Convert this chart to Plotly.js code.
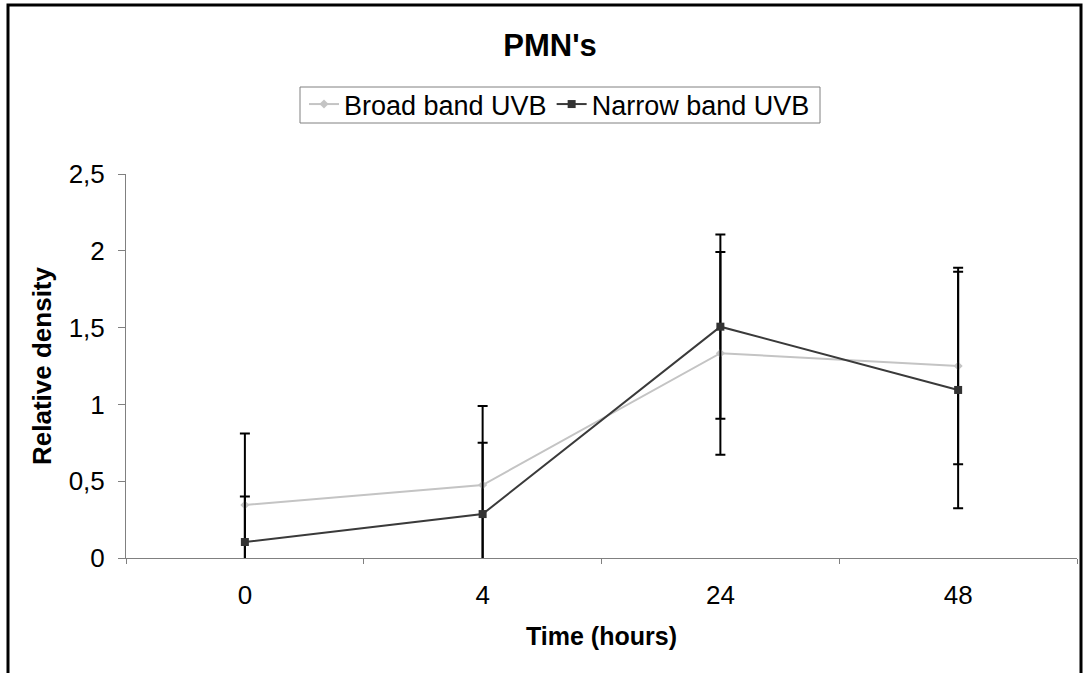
<!DOCTYPE html>
<html>
<head>
<meta charset="utf-8">
<script src="https://cdn.plot.ly/plotly-3.0.1.min.js"></script>
<style>html,body{margin:0;padding:0;background:#fff}#chart{width:1088px;height:673px}</style>
</head>
<body>
<div id="chart"></div>
<script>
const categories = ['0', '4', '24', '48'];
const broadBand = [0.345, 0.475, 1.333, 1.25];
const broadBandErr = [0.465, 0.515, 0.66, 0.64];
const narrowBand = [0.104, 0.286, 1.506, 1.094];
const narrowBandErr = [0.296, 0.464, 0.60, 0.77];
const yTicks = [0, 0.5, 1, 1.5, 2, 2.5];

const FONT = 'Liberation Sans, Arial, sans-serif';
const PW = 951, PH = 384, PL = 126, PB = 558;
const px = v => (v - PL) / PW;
const py = v => (PB - v) / PH;

const traces = [
  {
    type: 'scatter', mode: 'lines+markers', name: 'Broad band UVB',
    x: categories, y: broadBand,
    line: {color: '#c4c4c4', width: 2},
    marker: {symbol: 'diamond', size: 7, color: '#c4c4c4'},
    error_y: {type: 'data', array: broadBandErr, visible: true, color: '#000', thickness: 2, width: 5}
  },
  {
    type: 'scatter', mode: 'lines+markers', name: 'Narrow band UVB',
    x: categories, y: narrowBand,
    line: {color: '#3a3a3a', width: 2},
    marker: {symbol: 'square', size: 8, color: '#333'},
    error_y: {type: 'data', array: narrowBandErr, visible: true, color: '#000', thickness: 2, width: 5}
  }
];

const layout = {
  width: 1088, height: 673,
  paper_bgcolor: '#fff', plot_bgcolor: '#fff',
  separators: ', ',
  margin: {l: 126, r: 11, t: 174, b: 115},
  font: {family: FONT, size: 26, color: '#000'},
  title: {text: "<b>PMN's</b>", font: {family: FONT, size: 31, color: '#000'},
          x: 550/1088, xref: 'container', xanchor: 'center', y: 1 - 45/673, yref: 'container', yanchor: 'middle'},
  showlegend: true,
  legend: {orientation: 'h', x: px(304), xanchor: 'left', y: py(80), yanchor: 'top',
           borderwidth: 0, bgcolor: 'rgba(0,0,0,0)', font: {family: FONT, size: 27, color: '#000'},
           traceorder: 'normal', itemwidth: 30, tracegroupgap: 0},
  xaxis: {
    type: 'category', range: [-0.5, 3.5], tickson: 'boundaries',
    ticks: 'outside', ticklen: 5, tickcolor: '#808080', tickwidth: 1,
    showline: true, linecolor: '#808080', linewidth: 1, showgrid: false, zeroline: false,
    tickfont: {family: FONT, size: 26, color: '#000'}, ticklabelstandoff: 14,
    title: {text: '<b>Time (hours)</b>', font: {family: FONT, size: 25, color: '#000'}, standoff: 18},
    automargin: false
  },
  yaxis: {
    range: [0, 2.5], tickvals: yTicks,
    ticks: 'outside', ticklen: 7, tickcolor: '#808080', tickwidth: 1,
    showline: true, linecolor: '#808080', linewidth: 1, showgrid: false, zeroline: false,
    tickfont: {family: FONT, size: 26, color: '#000'}, ticklabelstandoff: 8,
    title: {text: '<b>Relative density</b>', font: {family: FONT, size: 26, color: '#000'}, standoff: 9},
    automargin: false
  },
  shapes: [
    {type: 'rect', xref: 'paper', yref: 'paper',
     x0: px(300), x1: px(820), y0: py(123), y1: py(87),
     line: {color: '#808080', width: 1}, fillcolor: 'rgba(0,0,0,0)', layer: 'above'},
    {type: 'rect', xref: 'paper', yref: 'paper',
     x0: px(8), x1: px(1081), y0: -0.6, y1: py(5),
     line: {color: '#000', width: 3}, fillcolor: 'rgba(0,0,0,0)', layer: 'above'}
  ]
};

Plotly.newPlot('chart', traces, layout, {displayModeBar: false, staticPlot: true});
</script>
</body>
</html>
